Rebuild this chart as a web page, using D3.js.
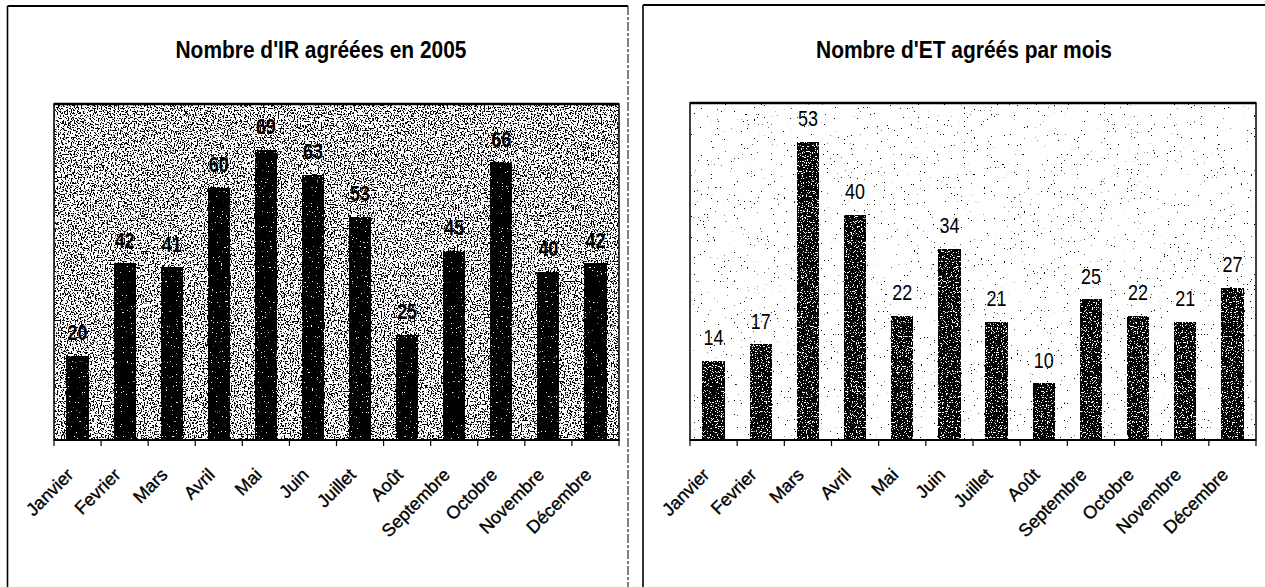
<!DOCTYPE html>
<html>
<head>
<meta charset="utf-8">
<script src="https://cdn.jsdelivr.net/npm/d3@7/dist/d3.min.js"></script>
<style>
  html, body { margin: 0; padding: 0; background: #fff; }
  svg { display: block; }
</style>
</head>
<body>
<svg id="chart" width="1265" height="587"></svg>
<script>
// ---- data ----
const months = ["Janvier", "Fevrier", "Mars", "Avril", "Mai", "Juin", "Juillet", "Août", "Septembre", "Octobre", "Novembre", "Décembre"];
const irValues = [20, 42, 41, 60, 69, 63, 53, 25, 45, 66, 40, 42];
const etValues = [14, 17, 53, 40, 22, 34, 21, 10, 25, 22, 21, 27];
const irTitle = "Nombre d'IR agréées  en 2005";
const etTitle = "Nombre d'ET agréés par mois";
const irMax = 80;
const etMax = 60;

const svg = d3.select("#chart");
const defs = svg.append("defs");

function makeStipple(id, base, dot, threshold, freq, seed) {
  const f = defs.append("filter").attr("id", id)
    .attr("x", 0).attr("y", 0).attr("width", 1).attr("height", 1)
    .attr("color-interpolation-filters", "sRGB");
  f.append("feTurbulence").attr("type", "fractalNoise")
    .attr("baseFrequency", freq).attr("numOctaves", 1).attr("seed", seed).attr("result", "noise");
  f.append("feColorMatrix").attr("in", "noise").attr("type", "matrix")
    .attr("values", "0 0 0 0 0  0 0 0 0 0  0 0 0 0 0  1 0 0 0 0").attr("result", "a");
  const ct = f.append("feComponentTransfer").attr("in", "a").attr("result", "th");
  ct.append("feFuncA").attr("type", "linear").attr("slope", 40).attr("intercept", -40 * threshold);
  f.append("feFlood").attr("flood-color", dot).attr("result", "dotc");
  f.append("feComposite").attr("in", "dotc").attr("in2", "th").attr("operator", "in").attr("result", "dots");
  f.append("feFlood").attr("flood-color", base).attr("result", "basec");
  const m = f.append("feMerge");
  m.append("feMergeNode").attr("in", "basec");
  m.append("feMergeNode").attr("in", "dots");
}
makeStipple("bgDense", "#ffffff", "#000000", 0.54, 0.7, 3);
makeStipple("bgSparse", "#ffffff", "#000000", 0.71, 0.7, 7);
makeStipple("barLeft", "#000000", "#ffffff", 0.70, 0.8, 11);
makeStipple("barRight", "#000000", "#ffffff", 0.60, 0.8, 5);

const titleFont = "'Liberation Sans Narrow', 'Liberation Sans', Arial, sans-serif";
const labelFont = "'Liberation Sans', Arial, sans-serif";

function panel(cfg) {
  const g = svg.append("g");
  // outer frame
  g.append("line").attr("x1", cfg.frame.x0).attr("x2", cfg.frame.x1)
    .attr("y1", cfg.frame.y).attr("y2", cfg.frame.y).attr("stroke", "#000").attr("stroke-width", 2);
  g.append("line").attr("x1", cfg.frame.x0).attr("x2", cfg.frame.x0)
    .attr("y1", cfg.frame.y).attr("y2", 587).attr("stroke", "#000").attr("stroke-width", 1.6);
  if (cfg.frame.right) {
    g.append("line").attr("x1", cfg.frame.x1).attr("x2", cfg.frame.x1)
      .attr("y1", cfg.frame.y).attr("y2", 587).attr("stroke", "#000").attr("stroke-width", 1)
      .attr("stroke-dasharray", "9 2 3 2");
  }

  // title
  g.append("text").attr("x", cfg.titleX).attr("y", 58)
    .attr("text-anchor", "middle")
    .attr("font-family", titleFont).attr("font-size", 23).attr("font-weight", "bold")
    .attr("textLength", cfg.titleLen).attr("lengthAdjust", "spacingAndGlyphs")
    .attr("fill", "#000").text(cfg.title);

  const x = d3.scaleBand().domain(months).range([cfg.x0, cfg.x1])
    .paddingInner(0.55).paddingOuter(0.275);
  const y = d3.scaleLinear().domain([0, cfg.max]).range([cfg.y1, cfg.y0]);

  // plot background
  g.append("rect").attr("x", cfg.x0).attr("y", cfg.y0)
    .attr("width", cfg.x1 - cfg.x0).attr("height", cfg.y1 - cfg.y0)
    .attr("fill", "#fff").attr("filter", `url(#${cfg.bg})`);

  // bars
  g.selectAll("rect.bar").data(cfg.values).join("rect").attr("class", "bar")
    .attr("x", (d, i) => x(months[i]))
    .attr("y", d => y(d))
    .attr("width", x.bandwidth())
    .attr("height", d => y(0) - y(d))
    .attr("fill", "#000")
    .attr("filter", `url(#${cfg.barFilter})`);

  // plot frame
  g.append("rect").attr("x", cfg.x0).attr("y", cfg.y0)
    .attr("width", cfg.x1 - cfg.x0).attr("height", cfg.y1 - cfg.y0)
    .attr("fill", "none").attr("stroke", "#000").attr("stroke-width", 1.5);
  g.append("line").attr("x1", cfg.x0).attr("x2", cfg.x1)
    .attr("y1", cfg.y0).attr("y2", cfg.y0).attr("stroke", "#000").attr("stroke-width", 2.5);

  // x axis: line + ticks at category boundaries
  const step = x.step();
  const half = step * x.paddingInner() / 2;
  const bounds = months.map(m => x(m) - half).concat([x(months[months.length - 1]) + x.bandwidth() + half]);
  g.append("line").attr("x1", cfg.x0).attr("x2", cfg.x1)
    .attr("y1", y(0)).attr("y2", y(0)).attr("stroke", "#000").attr("stroke-width", 2);
  g.selectAll("line.tick").data(bounds).join("line").attr("class", "tick")
    .attr("x1", d => d).attr("x2", d => d)
    .attr("y1", y(0)).attr("y2", y(0) + 6)
    .attr("stroke", "#000").attr("stroke-width", 1.2);

  // value labels
  g.selectAll("text.val").data(cfg.values).join("text").attr("class", "val")
    .attr("x", (d, i) => x(months[i]) + x.bandwidth() / 2)
    .attr("y", d => y(d) - 16)
    .attr("text-anchor", "middle")
    .attr("font-family", titleFont).attr("font-size", 22).attr("font-weight", cfg.valWeight)
    .attr("textLength", d => String(d).length * 10).attr("lengthAdjust", "spacingAndGlyphs")
    .attr("fill", "#000").text(d => d);

  // category labels (rotated)
  g.selectAll("text.cat").data(months).join("text").attr("class", "cat")
    .attr("transform", m => `translate(${x(m) + x.bandwidth() / 2 - 3},${y(0) + 36}) rotate(-45)`)
    .attr("text-anchor", "end")
    .attr("font-family", labelFont).attr("font-size", 18)
    .attr("stroke", "#000").attr("stroke-width", 0.35)
    .attr("fill", "#000").text(m => m);
}

panel({
  title: irTitle, titleX: 321, titleLen: 291,
  frame: { x0: 7.5, x1: 628, y: 6, right: true },
  x0: 54, x1: 619, y0: 104, y1: 440, max: irMax,
  values: irValues, bg: "bgDense", barFilter: "barLeft", valWeight: "bold"
});
panel({
  title: etTitle, titleX: 964, titleLen: 296,
  frame: { x0: 643, x1: 1265, y: 5, right: false },
  x0: 690, x1: 1256, y0: 103, y1: 440, max: etMax,
  values: etValues, bg: "bgSparse", barFilter: "barRight", valWeight: "normal"
});
</script>
</body>
</html>
